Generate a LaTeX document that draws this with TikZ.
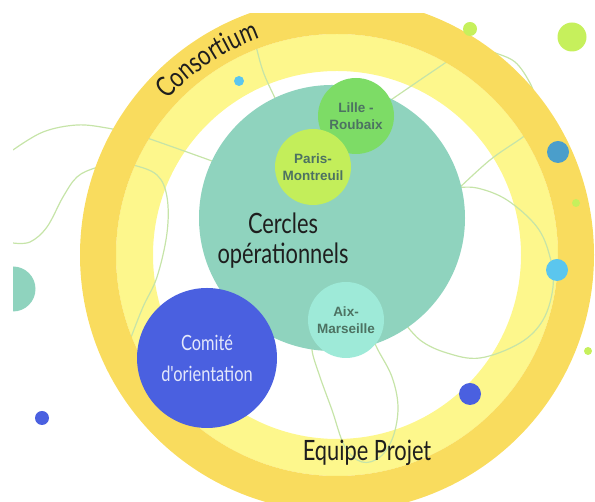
\documentclass[tikz,border=0pt]{standalone}
\usepackage{fontspec}
\newfontfamily\hand[FakeStretch=0.78]{Lato}
\setsansfont{Liberation Sans}
\usetikzlibrary{decorations.text}
\definecolor{ringdark}{HTML}{F9DC5E}
\definecolor{ringpale}{HTML}{FDF78C}
\definecolor{tealc}{HTML}{8FD3BE}
\definecolor{lillec}{HTML}{7DDC66}
\definecolor{parisc}{HTML}{C3EE5A}
\definecolor{aixc}{HTML}{9EEAD8}
\definecolor{comitec}{HTML}{4A60E0}
\definecolor{lightblue}{HTML}{5BC6EE}
\definecolor{steelblue}{HTML}{4A9ECB}
\definecolor{limec}{HTML}{C6F05C}
\definecolor{linkc}{HTML}{C6E4A8}
\definecolor{labelc}{HTML}{4D7262}
\definecolor{inkc}{HTML}{1E1E1E}
\definecolor{comitetext}{HTML}{E4E8FB}
\begin{document}
\begin{tikzpicture}[x=1pt,y=1pt,
  link/.style={draw=linkc, line width=1.2pt},
  city/.style={circle, minimum size=76pt, inner sep=0pt, align=center, text=labelc,
    font=\sffamily\bfseries\fontsize{13.5}{17}\selectfont},
  dotc/.style={circle, inner sep=0pt, minimum size=#1},
  hw/.style={font=\hand\fontsize{28}{30}\selectfont, text=inkc, align=center}]
\useasboundingbox (0,0) rectangle (595,502);
\begin{scope}
\clip (13,0) rectangle (595,488);
\coordinate (C) at (337,247);
% pale ring
\fill[ringpale, even odd rule] (C) circle[radius=221] (C) circle[radius=184];
% thin links
\draw[link] plot[smooth, tension=0.6] coordinates {(253,470) (257,452) (264,428) (276,402)};
\draw[link] plot[smooth, tension=0.6] coordinates {(13,352) (43,370) (77,377) (107,374) (127,369) (147,364) (212,341)};
\draw[link] plot[smooth, tension=0.6] coordinates {(13,259) (30,260) (47,275) (63,305) (77,325) (95,334) (115,338) (133,337) (157,327) (167,305) (167,269) (157,225) (143,195) (130,162) (120,135)};
\draw[link] plot[smooth, tension=0.6] coordinates {(385,398) (420,422) (445,439) (460,450)};
\draw[link] plot[smooth, tension=0.6] coordinates {(478,456) (493,450) (515,440) (530,419) (537,400)};
\draw[link] plot[smooth, tension=0.6] coordinates {(455,310) (490,342) (523,365) (545,383)};
\draw[link] plot[smooth, tension=0.6] coordinates {(455,314) (477,314) (507,302) (537,275) (550,245) (553,215) (543,182) (520,159) (480,144) (447,149) (420,162) (400,185)};
\draw[link] plot[smooth, tension=0.6] coordinates {(316,165) (312,152) (320,125) (332,92) (345,55) (362,40) (380,45) (393,65) (398,95) (392,125) (378,152) (372,165)};
% dark ring
\fill[ringdark, even odd rule] (C) circle[radius=257] (C) circle[radius=221];
% dots
\node[dotc=10pt, fill=lightblue] (d1) at (239,421) {};
\node[dotc=14pt, fill=limec] (d2) at (470,473) {};
\node[dotc=29pt, fill=limec] (d3) at (572,465) {};
\node[dotc=22pt, fill=steelblue] (d4) at (558,350) {};
\node[dotc=8pt, fill=limec] (d5) at (576,299) {};
\node[dotc=22pt, fill=lightblue] (d6) at (557,232) {};
\node[dotc=8pt, fill=limec] (d7) at (588,151) {};
\node[dotc=22pt, fill=comitec] (d8) at (470,108) {};
\node[dotc=14pt, fill=comitec] (d9) at (42,84) {};
\node[dotc=45pt, fill=tealc] (d10) at (13,213) {};
% big circles
\node[circle, fill=tealc, minimum size=266pt, inner sep=0pt] (cercles) at (332,284) {};
\node[city, fill=lillec] (lille) at (356,386) {Lille -\\Roubaix};
\node[city, fill=parisc] (paris) at (313,335) {Paris-\\Montreuil};
\node[city, fill=aixc] (aix) at (346,182) {Aix-\\Marseille};
\node[circle, fill=comitec, minimum size=140pt, inner sep=0pt, text=comitetext, align=center,
  font=\hand\fontsize{21}{31}\selectfont] (comite) at (207,144) {Comité\\d'orientation};
% texts
\node[hw] (cerclestxt) at (283,261) {Cercles\\opérationnels};
\node[hw, anchor=base] (equipe) at (367,41) {Equipe Projet};
\path[decorate, decoration={text along path, text format delimiters={|}{|},
  text={|\hand\fontsize{28}{30}\selectfont|Consortium}, text color=inkc, text align=left}]
  (C) ++(137.5:230) arc[start angle=137.5, end angle=98, radius=230];
\end{scope}
\end{tikzpicture}
\end{document}
